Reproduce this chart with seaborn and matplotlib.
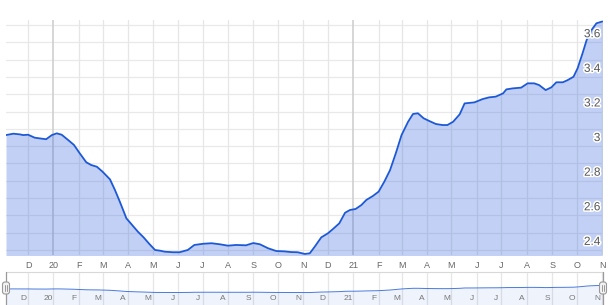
import matplotlib
matplotlib.use('Agg')
import matplotlib.pyplot as plt
import matplotlib.dates as mdates
import matplotlib.transforms as mtransforms
import matplotlib.patheffects as pe
from matplotlib.patches import FancyBboxPatch
from matplotlib.lines import Line2D
import pandas as pd
import seaborn as sns

dates = ['2019-11-04','2019-11-13','2019-11-21','2019-11-25','2019-12-01','2019-12-09','2019-12-15','2019-12-23','2019-12-30',
         '2020-01-05','2020-01-11','2020-01-19','2020-01-26','2020-02-02','2020-02-10','2020-02-16','2020-02-23',
         '2020-03-01','2020-03-10','2020-03-16','2020-03-22','2020-03-30','2020-04-07','2020-04-13','2020-04-20','2020-04-27',
         '2020-05-04','2020-05-10','2020-05-16','2020-05-26','2020-06-03','2020-06-13','2020-06-21','2020-07-02','2020-07-12',
         '2020-07-22','2020-08-01','2020-08-11','2020-08-23','2020-09-01','2020-09-09','2020-09-19','2020-09-29','2020-10-09',
         '2020-10-17','2020-10-25','2020-11-03','2020-11-09','2020-11-15','2020-11-23','2020-12-01','2020-12-07','2020-12-15',
         '2020-12-22','2020-12-28','2021-01-04','2021-01-11','2021-01-17','2021-01-25','2021-02-01','2021-02-08','2021-02-15',
         '2021-02-22','2021-03-01','2021-03-09','2021-03-15','2021-03-21','2021-03-28','2021-04-04','2021-04-12','2021-04-20',
         '2021-04-26','2021-05-03','2021-05-11','2021-05-17','2021-05-29','2021-06-08','2021-06-16','2021-06-24','2021-07-03',
         '2021-07-07','2021-07-15','2021-07-25','2021-08-02','2021-08-10','2021-08-16','2021-08-24','2021-08-31','2021-09-06',
         '2021-09-14','2021-09-20','2021-09-27','2021-10-02','2021-10-08','2021-10-13','2021-10-19','2021-10-25','2021-11-01']
values = [3.064,3.072,3.068,3.064,3.066,3.049,3.045,3.040,3.064,
          3.074,3.066,3.035,3.007,2.959,2.907,2.891,2.881,
          2.852,2.808,2.747,2.679,2.583,2.539,2.506,2.473,2.435,
          2.400,2.396,2.390,2.387,2.387,2.400,2.429,2.436,2.439,
          2.433,2.425,2.429,2.427,2.440,2.433,2.410,2.394,2.392,
          2.388,2.387,2.377,2.381,2.419,2.473,2.496,2.520,2.554,
          2.615,2.631,2.637,2.660,2.689,2.712,2.737,2.795,2.862,
          2.959,3.064,3.141,3.186,3.190,3.161,3.145,3.128,3.122,
          3.122,3.141,3.184,3.247,3.253,3.272,3.282,3.286,3.305,
          3.328,3.334,3.338,3.363,3.363,3.353,3.324,3.340,3.369,
          3.369,3.382,3.401,3.450,3.536,3.613,3.671,3.710,3.720]

tick_dates = ['2019-12-01','2020-01-01','2020-02-01','2020-03-01','2020-04-01','2020-05-01','2020-06-01','2020-07-01',
              '2020-08-01','2020-09-01','2020-10-01','2020-11-01','2020-12-01','2021-01-01','2021-02-01','2021-03-01',
              '2021-04-01','2021-05-01','2021-06-01','2021-07-01','2021-08-01','2021-09-01','2021-10-01','2021-11-01']
tick_labels = ['D','20','F','M','A','M','J','J','A','S','O','N','D','21','F','M','A','M','J','J','A','S','O','N']
year_dates = ['2020-01-01','2021-01-01']
y_grid = [2.4,2.5,2.6,2.7,2.8,2.9,3.0,3.1,3.2,3.3,3.4,3.5,3.6,3.7]
y_ticks = [2.4,2.6,2.8,3.0,3.2,3.4,3.6]
y_labels = ['2.4','2.6','2.8','3','3.2','3.4','3.6']

df = pd.DataFrame({'date': pd.to_datetime(dates), 'value': values})
tdates = pd.to_datetime(tick_dates)
ydates = pd.to_datetime(year_dates)

sns.set_theme(style='white')
plt.rcParams['font.family'] = ['Liberation Sans', 'DejaVu Sans']

W, H = 610, 305
fig = plt.figure(figsize=(W/100, H/100), dpi=100)
ax = fig.add_axes([6/W, 50/H, 597/W, 235/H])
nav = fig.add_axes([6/W, 0, 597/W, 33/H])

line_c = '#1d59d6'
fill_c = '#3366dd'
xmin, xmax = pd.Timestamp('2019-11-04'), pd.Timestamp('2021-11-02')

# main chart
for y in y_grid:
    ax.axhline(y, color='#e9e9e9', lw=0.9, zorder=0)
for d in tdates:
    if d in ydates:
        ax.axvline(d, color='#cfcfcf', lw=1.2, zorder=0)
    else:
        ax.axvline(d, color='#e6e6e6', lw=0.9, zorder=0)
ax.fill_between(df['date'], df['value'], 2.0, color=fill_c, alpha=0.30, lw=0, zorder=1)
sns.lineplot(data=df, x='date', y='value', ax=ax, color=line_c, lw=1.3, zorder=2)
ax.set_xlim(xmin, xmax)
ax.set_ylim(2.371, 3.729)
ax.set_xlabel('')
ax.set_ylabel('')
ax.set_yticks([])
ax.set_xticks(tdates)
ax.set_xticklabels(tick_labels)
ax.tick_params(axis='x', length=0, pad=4, labelsize=6.5, labelcolor='#666666')
for s in ax.spines.values():
    s.set_visible(False)

off = mtransforms.ScaledTranslation(0, 1.5/72, fig.dpi_scale_trans)
trans = mtransforms.blended_transform_factory(ax.transAxes, ax.transData) + off
for v, lab in zip(y_ticks, y_labels):
    ax.text(0.9955, v, lab, transform=trans, ha='right', va='bottom', fontsize=8.5, color='#555555', zorder=5,
            path_effects=[pe.withStroke(linewidth=2.2, foreground='white')])

# navigator
for d in tdates:
    nav.axvline(d, color='#e6e6e6', lw=0.9, zorder=0)
nav.fill_between(df['date'], df['value'], 0, color=fill_c, alpha=0.08, lw=0, zorder=1)
sns.lineplot(data=df, x='date', y='value', ax=nav, color=line_c, lw=0.7, alpha=0.8, zorder=2)
nav.set_xlim(xmin, xmax)
nav.set_ylim(0, 6.3)
nav.set_xlabel('')
nav.set_ylabel('')
nav.set_xticks([])
nav.set_yticks([])
for k, s in nav.spines.items():
    s.set_visible(k == 'top')
nav.spines['top'].set_color('#d8d8d8')
nav.spines['top'].set_linewidth(0.8)
noff = mtransforms.ScaledTranslation(-5/100, 0, fig.dpi_scale_trans)
ntrans = mtransforms.blended_transform_factory(nav.transData, nav.transAxes) + noff
for d, lab in zip(tdates, tick_labels):
    nav.text(d, 0.2, lab, transform=ntrans, ha='center', va='center', fontsize=6, color='#777777', zorder=4)

# handles
ident = mtransforms.IdentityTransform()
for hx in (6, 603):
    fig.add_artist(Line2D([hx, hx], [0, 33], transform=ident, color='#999999', lw=0.9))
    fig.add_artist(FancyBboxPatch((hx - 3.5, 11), 7, 12, boxstyle='round,pad=0,rounding_size=2.5',
                                  transform=ident, facecolor='#f2f2f2', edgecolor='#999999', lw=0.8, zorder=10))
    for dx in (-1.2, 1.2):
        fig.add_artist(Line2D([hx + dx, hx + dx], [14, 20], transform=ident, color='#999999', lw=0.7, zorder=11))

fig.savefig('out.png', dpi=100)
